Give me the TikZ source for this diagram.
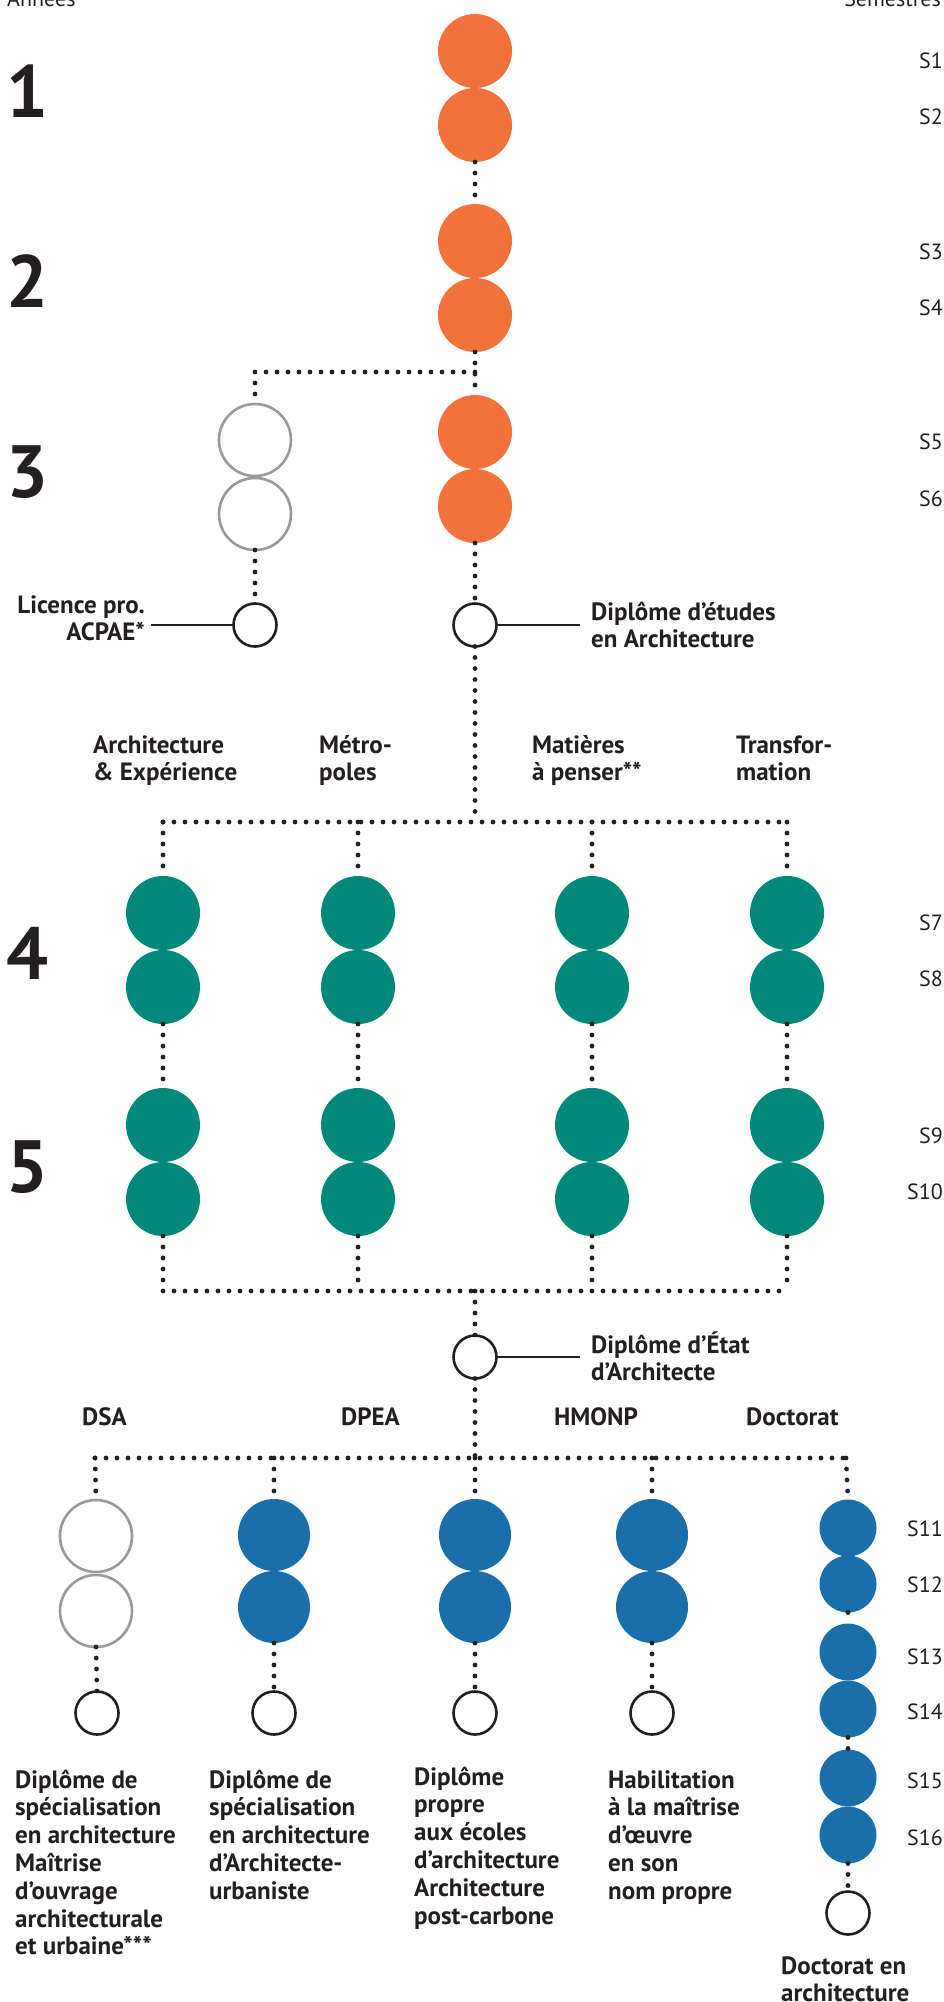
\documentclass[tikz,border=0pt]{standalone}
\usepackage{fontspec}
\setmainfont{PT Sans}
\newfontfamily\labfont{PT Sans}
\definecolor{ink}{HTML}{231F20}
\definecolor{orangeC}{HTML}{F3723B}
\definecolor{greenC}{HTML}{00897A}
\definecolor{blueC}{HTML}{1A6EAA}
\definecolor{grayC}{HTML}{9A9A9A}
\newcommand\Ltxt[1]{\vtop{\baselineskip=27.8pt\halign{##\hfil\cr#1\crcr}}}
\newcommand\Rtxt[1]{\vtop{\baselineskip=27.8pt\halign{\hfil##\cr#1\crcr}}}
\tikzset{
  dots/.style={draw=ink, line width=4.8pt, dash pattern=on 0pt off 11pt, line cap=round},
  solidline/.style={draw=ink, line width=2.2pt},
  orangec/.style={circle, fill=orangeC, minimum size=74pt, inner sep=0pt, outer sep=0pt},
  greenc/.style={circle, fill=greenC, minimum size=74pt, inner sep=0pt, outer sep=0pt},
  bluec/.style={circle, fill=blueC, minimum size=72pt, inner sep=0pt, outer sep=0pt},
  docc/.style={circle, fill=blueC, minimum size=57pt, inner sep=0pt, outer sep=0pt},
  grayc/.style={circle, draw=grayC, line width=2.6pt, minimum size=72pt, inner sep=0pt, outer sep=0pt},
  smallc/.style={circle, draw=ink, line width=2.6pt, fill=white, minimum size=43pt, inner sep=0pt, outer sep=0pt},
  lab/.style={anchor=base west, inner sep=0pt, text=ink, font=\labfont\fontsize{25}{27.8}\selectfont\bfseries},
  rlab/.style={anchor=base east, inner sep=0pt, text=ink, font=\labfont\fontsize{25}{27.8}\selectfont\bfseries},
  sem/.style={anchor=base east, inner sep=0pt, text=ink, font=\fontsize{22}{26}\selectfont},
  year/.style={anchor=base west, inner sep=0pt, text=ink, font=\fontsize{74}{74}\selectfont\bfseries},
}
\begin{document}
\begin{tikzpicture}[x=1pt,y=-1pt]
\useasboundingbox (0,0) rectangle (943,2002);
% header
\node[anchor=base west, inner sep=0pt, text=ink, font=\fontsize{22}{26}\selectfont] (hA) at (7,7) {Années};
\node[sem] (hS) at (941,7) {Semestres};
% years
\node[year] (y1) at (6,117) {1};
\node[year] (y2) at (6,307) {2};
\node[year] (y3) at (6,497) {3};
\node[year] (y4) at (6,979) {4};
\node[year] (y5) at (6,1192) {5};
% semesters
\node[sem] (s1) at (943,68) {S1};
\node[sem] (s2) at (943,124) {S2};
\node[sem] (s3) at (943,259) {S3};
\node[sem] (s4) at (943,315) {S4};
\node[sem] (s5) at (943,449) {S5};
\node[sem] (s6) at (943,506) {S6};
\node[sem] (s7) at (943,930) {S7};
\node[sem] (s8) at (943,986) {S8};
\node[sem] (s9) at (943,1143) {S9};
\node[sem] (s10) at (943,1199) {S10};
\node[sem] (s11) at (943,1536) {S11};
\node[sem] (s12) at (943,1592) {S12};
\node[sem] (s13) at (943,1664) {S13};
\node[sem] (s14) at (943,1719) {S14};
\node[sem] (s15) at (943,1788) {S15};
\node[sem] (s16) at (943,1845) {S16};
% orange column
\node[orangec] (o1) at (475,51) {};
\node[orangec] (o2) at (475,125) {};
\node[orangec] (o3) at (475,241) {};
\node[orangec] (o4) at (475,315) {};
\node[orangec] (o5) at (475,432) {};
\node[orangec] (o6) at (475,506) {};
\node[grayc] (g1) at (255,440) {};
\node[grayc] (g2) at (255,514) {};
\node[smallc] (sL) at (255,625) {};
\node[smallc] (sD) at (475,625) {};
\coordinate (b1) at (475,372);
\coordinate (b1L) at (255,372);
\draw[dots] (o2.south) -- (o3.north);
\draw[dots] (o4.south) -- (b1) -- (o5.north);
\draw[dots] (b1) -- (b1L) -- (g1.north);
\draw[dots] (g2.south) -- (sL.north);
\draw[dots] (o6.south) -- (sD.north);
\coordinate (lL) at (151,625);
\coordinate (lD) at (580,625);
\draw[solidline] (sL.west) -- (lL);
\draw[solidline] (sD.east) -- (lD);
\node[rlab] (tL) at (145,613) {\Rtxt{Licence pro.\cr ACPAE*}};
\node[lab] (tD) at (591,620) {\Ltxt{Diplôme d’études\cr en Architecture}};
% master tracks
\node[lab] (m1) at (93,753) {\Ltxt{Architecture\cr \& Expérience}};
\node[lab] (m2) at (319,753) {\Ltxt{Métro-\cr poles}};
\node[lab] (m3) at (532,753) {\Ltxt{Matières\cr à penser**}};
\node[lab] (m4) at (736,753) {\Ltxt{Transfor-\cr mation}};
\coordinate (h1) at (475,822);
\coordinate (h1L) at (163,822);
\coordinate (h1R) at (787,822);
\draw[dots] (sD.south) -- (h1);
\draw[dots] (h1L) -- (h1R);
\foreach \c/\x in {a/163,b/358,c/592,d/787}{
  \node[greenc] (\c1) at (\x,913) {};
  \node[greenc] (\c2) at (\x,987) {};
  \node[greenc] (\c3) at (\x,1125) {};
  \node[greenc] (\c4) at (\x,1199) {};
  \coordinate (\c t) at (\x,822);
  \coordinate (\c b) at (\x,1291);
  \draw[dots] (\c t) -- (\c1.north);
  \draw[dots] (\c2.south) -- (\c3.north);
  \draw[dots] (\c4.south) -- (\c b);
}
\coordinate (h2L) at (163,1291);
\coordinate (h2R) at (787,1291);
\coordinate (h2) at (475,1291);
\draw[dots] (h2L) -- (h2R);
\node[smallc] (sE) at (475,1357) {};
\draw[dots] (h2) -- (sE.north);
\coordinate (lE) at (580,1357);
\draw[solidline] (sE.east) -- (lE);
\node[lab] (tE) at (591,1353) {\Ltxt{Diplôme d’État\cr d’Architecte}};
% post-master
\node[lab] (p1) at (82,1425) {DSA};
\node[lab] (p2) at (341,1425) {DPEA};
\node[lab] (p3) at (554,1425) {HMONP};
\node[lab] (p4) at (746,1425) {Doctorat};
\coordinate (h3) at (475,1458);
\coordinate (h3L) at (95,1458);
\coordinate (h3R) at (846,1458);
\draw[dots] (sE.south) -- (h3);
\draw[dots] (h3L) -- (h3R);
% DSA
\node[grayc] (q1) at (96,1536) {};
\node[grayc] (q2) at (96,1611) {};
\node[smallc] (qs) at (97,1713) {};
\draw[dots] (h3L) -- (q1.north);
\draw[dots] (q2.south) -- (qs.north);
% blue columns
\foreach \c/\x in {u/274,v/475,w/652}{
  \node[bluec] (\c1) at (\x,1535) {};
  \node[bluec] (\c2) at (\x,1607) {};
  \node[smallc] (\c s) at (\x,1713) {};
  \coordinate (\c t) at (\x,1458);
  \draw[dots] (\c t) -- (\c1.north);
  \draw[dots] (\c2.south) -- (\c s.north);
}
% doctorat
\node[docc] (d1) at (848,1528) {};
\node[docc] (d2) at (848,1584) {};
\node[docc] (d3) at (848,1652) {};
\node[docc] (d4) at (848,1709) {};
\node[docc] (d5) at (848,1778) {};
\node[docc] (d6) at (848,1835) {};
\node[smallc] (ds) at (848,1913) {};
\draw[dots] (h3R) -- (d1.north);
\draw[dots] (d2.south) -- (d3.north);
\draw[dots] (d4.south) -- (d5.north);
\draw[dots] (d6.south) -- (ds.north);
% bottom labels
\node[lab] (r1) at (15,1788) {\Ltxt{Diplôme de\cr spécialisation\cr en architecture\cr Maîtrise\cr d’ouvrage\cr architecturale\cr et urbaine***}};
\node[lab] (r2) at (209,1788) {\Ltxt{Diplôme de\cr spécialisation\cr en architecture\cr d’Architecte-\cr urbaniste}};
\node[lab] (r3) at (414,1785) {\Ltxt{Diplôme\cr propre\cr aux écoles\cr d’architecture\cr Architecture\cr post-carbone}};
\node[lab] (r4) at (608,1788) {\Ltxt{Habilitation\cr à la maîtrise\cr d’œuvre\cr en son\cr nom propre}};
\node[lab] (r5) at (781,1974) {\Ltxt{Doctorat en\cr architecture}};
\end{tikzpicture}
\end{document}
